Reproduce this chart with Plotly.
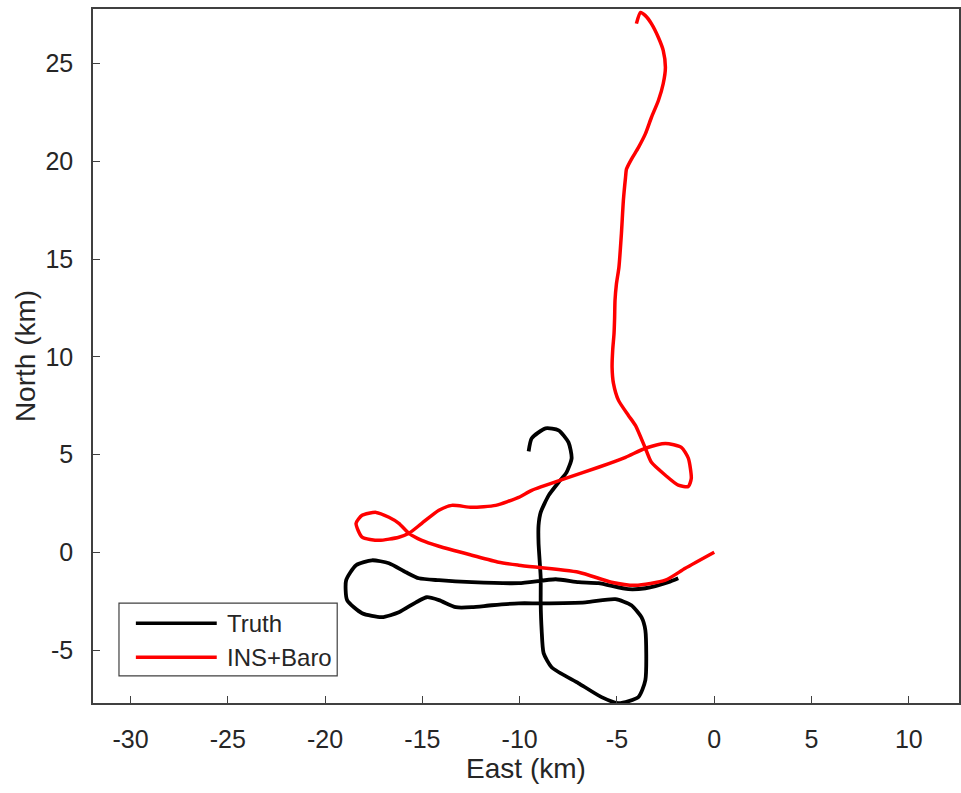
import plotly.graph_objects as go

# Truth trajectory (km)
truth_east = [-9.54, -9.38, -8.67, -8.00, -7.49, -7.33, -7.59, -8.00, -8.51, -8.92,
              -9.03, -9.03, -8.92, -8.92, -8.87, -8.77, -8.36, -6.97, -5.79, -4.92,
              -3.90, -3.54, -3.54, -3.74, -4.26, -5.08, -6.62, -8.87, -10.05, -11.44,
              -12.46, -13.28, -14.15, -14.77, -15.33, -16.21, -17.08, -18.10, -18.87, -18.92,
              -18.41, -17.59, -16.72, -15.85, -15.18, -14.15, -12.46, -10.05, -8.15, -6.97,
              -5.95, -4.41, -3.54, -2.36, -1.85]
truth_north = [5.16, 5.83, 6.34, 6.24, 5.62, 4.81, 4.09, 3.58, 2.91, 2.04,
               1.38, 0.46, -1.28, -2.61, -3.99, -5.16, -5.88, -6.70, -7.41, -7.72,
               -7.41, -6.54, -3.99, -3.32, -2.71, -2.40, -2.56, -2.61, -2.61, -2.71,
               -2.81, -2.81, -2.45, -2.30, -2.56, -3.07, -3.32, -3.12, -2.45, -1.43,
               -0.66, -0.41, -0.56, -1.02, -1.33, -1.43, -1.53, -1.58, -1.38, -1.53,
               -1.58, -1.89, -1.84, -1.53, -1.33]

# INS+Baro trajectory (km)
ins_east = [0.00, -1.49, -2.51, -4.05, -5.28, -6.97, -10.05, -11.08, -12.46, -14.15,
            -15.03, -15.69, -16.21, -16.72, -17.38, -18.10, -18.41, -18.10, -17.23, -16.21,
            -15.69, -15.03, -14.15, -13.49, -12.46, -11.23, -10.05, -9.38, -7.64, -5.95,
            -4.56, -3.54, -2.51, -1.69, -1.33, -1.18, -1.33, -1.85, -2.51, -3.23,
            -3.54, -4.05, -4.41, -4.92, -5.18, -5.25, -5.22, -5.15, -5.12, -5.10,
            -5.03, -4.90, -4.77, -4.67, -4.56, -4.51, -4.26, -3.90, -3.54, -3.23,
            -2.87, -2.62, -2.51, -2.62, -2.87, -3.23, -3.54, -3.79, -4.00]
ins_north = [0.00, -0.82, -1.43, -1.69, -1.53, -1.02, -0.66, -0.51, -0.15, 0.31,
             0.61, 0.97, 1.48, 1.79, 2.04, 1.89, 1.48, 0.77, 0.61, 0.77,
             0.97, 1.48, 2.15, 2.40, 2.30, 2.40, 2.81, 3.17, 3.78, 4.35,
             4.86, 5.32, 5.57, 5.37, 4.81, 3.78, 3.37, 3.43, 3.94, 4.60,
             5.32, 6.49, 7.00, 7.77, 8.64, 9.46, 10.33, 11.20, 12.00, 12.88,
             13.70, 14.57, 16.31, 18.00, 19.17, 19.60, 20.10, 20.70, 21.40, 22.24,
             23.11, 23.98, 24.80, 25.66, 26.33, 27.04, 27.45, 27.61, 27.04]

x_ticks = [-30, -25, -20, -15, -10, -5, 0, 5, 10]
y_ticks = [-5, 0, 5, 10, 15, 20, 25]
legend_names = ["Truth", "INS+Baro"]
legend_colors = ["#000000", "#ff0000"]

fig = go.Figure()
fig.add_trace(go.Scatter(x=truth_east, y=truth_north, mode="lines", name=legend_names[0],
                         line=dict(color=legend_colors[0], width=3.8, shape="spline", smoothing=0.6),
                         showlegend=False))
fig.add_trace(go.Scatter(x=ins_east, y=ins_north, mode="lines", name=legend_names[1],
                         line=dict(color=legend_colors[1], width=3.5, shape="spline", smoothing=0.6),
                         showlegend=False))

axis_color = "#404040"
font_family = "Liberation Sans, Arial, sans-serif"

fig.update_layout(
    width=961, height=793,
    margin=dict(l=93, r=0, t=9, b=90),
    paper_bgcolor="white", plot_bgcolor="white",
    font=dict(family=font_family, size=25, color="#262626"),
    xaxis=dict(range=[-31.93, 12.58], tickvals=x_ticks, ticktext=[str(v) for v in x_ticks],
               ticks="inside", ticklen=7, ticklabelstandoff=13,
               tickcolor=axis_color, showline=True, linecolor=axis_color, linewidth=1.5,
               mirror=True, showgrid=False, zeroline=False,
               title=dict(text="East (km)", font=dict(size=28), standoff=7),
               tickfont=dict(size=25)),
    yaxis=dict(range=[-7.71, 27.79], tickvals=y_ticks, ticktext=[str(v) for v in y_ticks],
               ticks="inside", ticklen=7, ticklabelstandoff=13,
               tickcolor=axis_color, showline=True, linecolor=axis_color, linewidth=1.5,
               mirror=True, showgrid=False, zeroline=False,
               title=dict(text="North (km)", font=dict(size=28), standoff=2),
               tickfont=dict(size=25)),
)

# Legend box (drawn in the plot's paper coordinates)
fig.add_shape(type="rect", xref="paper", yref="paper", x0=0.030, x1=0.282, y0=0.039, y1=0.144,
              line=dict(color=axis_color, width=1.2), fillcolor="white", layer="above")
for i, (nm, col) in enumerate(zip(legend_names, legend_colors)):
    yy = [0.115, 0.066][i]
    fig.add_shape(type="line", xref="paper", yref="paper", x0=0.0495, x1=0.1429, y0=yy, y1=yy,
                  line=dict(color=col, width=3.5), layer="above")
    fig.add_annotation(x=0.152, y=yy, xref="paper", yref="paper", text=nm, showarrow=False,
                       xanchor="left", yanchor="middle", font=dict(size=24, color="#262626"))

fig.write_html("out.html")
